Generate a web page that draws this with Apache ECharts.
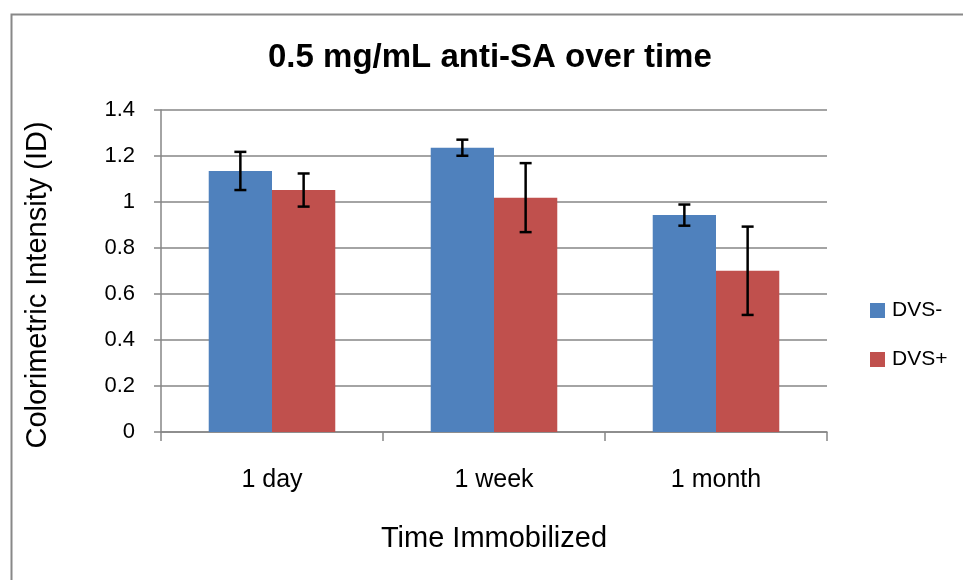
<!DOCTYPE html>
<html><head><meta charset="utf-8">
<script src="https://cdn.jsdelivr.net/npm/echarts@6/dist/echarts.min.js"></script>
<style>html,body{margin:0;padding:0;background:#fff}#c{width:963px;height:580px}</style>
</head><body><div id="c"></div>
<script>
const categories = ['1 day', '1 week', '1 month'];
const seriesNames = ['DVS-', 'DVS+'];
const dvsMinus = [1.135, 1.236, 0.943];
const dvsPlus = [1.052, 1.019, 0.701];
const dvsMinusErr = [0.083, 0.035, 0.046];
const dvsPlusErr = [0.072, 0.150, 0.192];
const yTicks = [0, 0.2, 0.4, 0.6, 0.8, 1, 1.2, 1.4];

const colors = ['#4F81BD', '#C0504D'];
const gapPct = 0.43;
const FONT = '"Liberation Sans", Arial, sans-serif';

function errSeries(vals, errs, sIdx) {
  return {
    type: 'custom',
    name: seriesNames[sIdx] + ' err',
    z: 10,
    silent: true,
    data: vals.map((v, i) => [i, v - errs[i], v + errs[i]]),
    renderItem: function (params, api) {
      const i = api.value(0);
      const lo = api.coord([i, api.value(1)]);
      const hi = api.coord([i, api.value(2)]);
      const band = api.size([1, 0])[0];
      const bw = band * (1 - gapPct) / 2;
      const x = lo[0] + (sIdx === 0 ? -bw / 2 : bw / 2);
      const cap = 6;
      const st = { stroke: '#000', lineWidth: 2.5 };
      return {
        type: 'group',
        children: [
          { type: 'line', shape: { x1: x, y1: lo[1], x2: x, y2: hi[1] }, style: st },
          { type: 'line', shape: { x1: x - cap, y1: lo[1], x2: x + cap, y2: lo[1] }, style: st },
          { type: 'line', shape: { x1: x - cap, y1: hi[1], x2: x + cap, y2: hi[1] }, style: st }
        ]
      };
    }
  };
}

const chart = echarts.init(document.getElementById('c'), null, { renderer: 'canvas' });
chart.setOption({
  animation: false,
  backgroundColor: '#fff',
  textStyle: { fontFamily: FONT },
  title: {
    text: '0.5 mg/mL anti-SA over time',
    left: 263,
    top: 36,
    textStyle: { fontFamily: FONT, fontSize: 33, fontWeight: 'bold', color: '#000' }
  },
  legend: {
    orient: 'vertical',
    left: 865,
    top: 295,
    itemWidth: 15,
    itemHeight: 15,
    itemGap: 28,
    icon: 'rect',
    data: seriesNames,
    textStyle: { fontFamily: FONT, fontSize: 21, color: '#000', padding: [0, 0, 0, 2] }
  },
  grid: { left: 161, right: 136, top: 110, bottom: 148, containLabel: false },
  xAxis: {
    type: 'category',
    data: categories,
    name: 'Time Immobilized',
    nameLocation: 'middle',
    nameGap: 92,
    nameTextStyle: { fontFamily: FONT, fontSize: 29, color: '#000' },
    axisLine: { lineStyle: { color: '#868686', width: 1.5 } },
    axisTick: { show: true, length: 9, lineStyle: { color: '#868686', width: 1.5 } },
    axisLabel: { fontFamily: FONT, fontSize: 25, color: '#000', margin: 36 }
  },
  yAxis: {
    type: 'value',
    min: yTicks[0],
    max: yTicks[yTicks.length - 1],
    interval: 0.2,
    name: 'Colorimetric Intensity (ID)',
    nameLocation: 'middle',
    nameGap: 109,
    nameRotate: 90,
    nameTextStyle: { fontFamily: FONT, fontSize: 29, color: '#000', padding: [0, 28, 0, 0] },
    axisLine: { show: true, lineStyle: { color: '#868686', width: 1.5 } },
    axisTick: { show: true, length: 7, lineStyle: { color: '#868686', width: 1.5 } },
    splitLine: { lineStyle: { color: '#868686', width: 1.5 } },
    axisLabel: {
      fontFamily: FONT, fontSize: 22, color: '#000', margin: 26,
      formatter: v => String(Math.round(v * 10) / 10)
    }
  },
  graphic: [{
    type: 'rect',
    left: 9, top: 12,
    shape: { width: 1100, height: 1000 },
    style: { fill: 'none', stroke: '#888', lineWidth: 2 },
    silent: true, z: -1
  }],
  series: [
    { type: 'bar', name: seriesNames[0], data: dvsMinus, barGap: '0%', barCategoryGap: (gapPct * 100) + '%', itemStyle: { color: colors[0] } },
    { type: 'bar', name: seriesNames[1], data: dvsPlus, barGap: '0%', barCategoryGap: (gapPct * 100) + '%', itemStyle: { color: colors[1] } },
    errSeries(dvsMinus, dvsMinusErr, 0),
    errSeries(dvsPlus, dvsPlusErr, 1)
  ]
});
</script>
</body></html>
